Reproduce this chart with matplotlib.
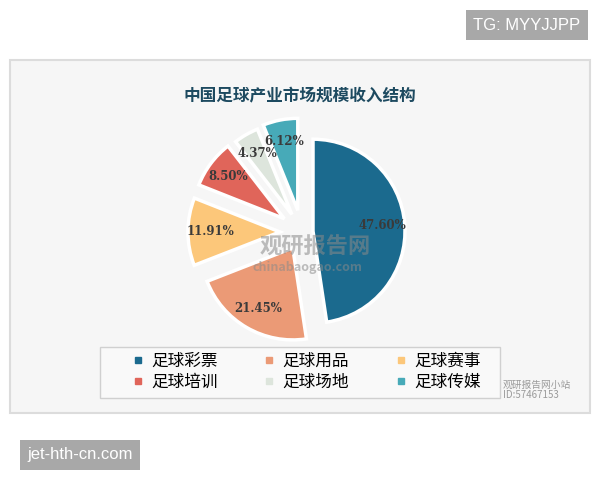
import matplotlib
matplotlib.use('Agg')
import matplotlib.pyplot as plt
from matplotlib.patches import Rectangle
from matplotlib.lines import Line2D

plt.rcParams['font.family'] = ['Noto Sans CJK SC', 'DejaVu Sans']

# 数据
labels = ['足球彩票', '足球用品', '足球赛事', '足球培训', '足球场地', '足球传媒']
values = [47.60, 21.45, 11.91, 8.50, 4.37, 6.12]
colors = ['#1b6a8e', '#eb9a76', '#fcc77a', '#e0655a', '#dde5dc', '#47aab8']
explode = [0.12, 0.2, 0.24, 0.24, 0.22, 0.24]

W, H = 600, 480
fig = plt.figure(figsize=(6, 4.8), dpi=100)
fig.patch.set_facecolor('white')

# 背景面板
fig.patches.append(Rectangle((10 / W, 1 - 413 / H), 580 / W, 353 / H,
                             transform=fig.transFigure, facecolor='#f6f6f6',
                             edgecolor='#dcdcdc', linewidth=1.5, zorder=-10))

# 饼图
cx, cy, r = 302, 232, 92
half = 150
ax = fig.add_axes([(cx - half) / W, (H - cy - half) / H, 2 * half / W, 2 * half / H])
ax.set_zorder(1)
wedges, texts, autotexts = ax.pie(values, colors=colors, explode=explode,
                                  startangle=90, counterclock=False,
                                  autopct=lambda p: '',
                                  wedgeprops=dict(edgecolor='white', linewidth=2.5),
                                  pctdistance=0.76)
ax.set_xlim(-half / r, half / r)
ax.set_ylim(-half / r, half / r)
ax.set_aspect('equal')
ax.axis('off')
for t, v in zip(autotexts, values):
    t.set_text('%.2f%%' % v)
    t.set_fontfamily('DejaVu Serif')
    t.set_fontweight('bold')
    t.set_fontsize(8.5)
    t.set_color('#3a3a3a')

# 标题
fig.text(300 / W, 1 - 96 / H, '中国足球产业市场规模收入结构', ha='center', va='center',
         fontsize=12, fontweight='bold', color='#1d4a60', zorder=3)

# 水印
fig.text(315 / W, 1 - 247 / H, '观研报告网', ha='center', va='center', fontsize=16,
         fontweight='bold', color='#8a8a8a', alpha=0.55, zorder=3)
fig.text(307 / W, 1 - 267 / H, 'chinabaogao.com', ha='center', va='center', fontsize=9,
         fontweight='bold', color='#8a8a8a', alpha=0.55, zorder=3)

# 图例 (按行排列)
handles = [Line2D([], [], marker='s', linestyle='', markersize=4.5, color=c) for c in colors]
order = [0, 3, 1, 4, 2, 5]
leg = fig.legend([handles[i] for i in order], [labels[i] for i in order],
                 ncol=3, loc='center',
                 bbox_to_anchor=(305 / W, 1 - 372 / H),
                 fontsize=12, frameon=False, handletextpad=0.3,
                 columnspacing=2.6, handlelength=1, labelspacing=0.25)
fig.patches.append(Rectangle((100 / W, 1 - 398 / H), 400 / W, 51 / H,
                             transform=fig.transFigure, facecolor='#f9f9f9',
                             edgecolor='#d0d0d0', linewidth=1, zorder=-5))

# 右下角水印
fig.text(503 / W, 1 - 390 / H, '观研报告网小站\nID:57467153', ha='left', va='center',
         fontsize=7, color='#9a9a9a', linespacing=1.1)

# 角标
fig.text(527 / W, 1 - 25 / H, 'TG: MYYJJPP', ha='center', va='center', fontsize=12,
         color='white', family=['Liberation Sans'],
         bbox=dict(boxstyle='square,pad=0.45', facecolor='#a8a8a8', edgecolor='none'))
fig.text(80 / W, 1 - 455 / H, 'jet-hth-cn.com', ha='center', va='center', fontsize=12,
         color='white', family=['Liberation Sans'],
         bbox=dict(boxstyle='square,pad=0.45', facecolor='#a8a8a8', edgecolor='none'))

fig.savefig('out.png', dpi=100)
